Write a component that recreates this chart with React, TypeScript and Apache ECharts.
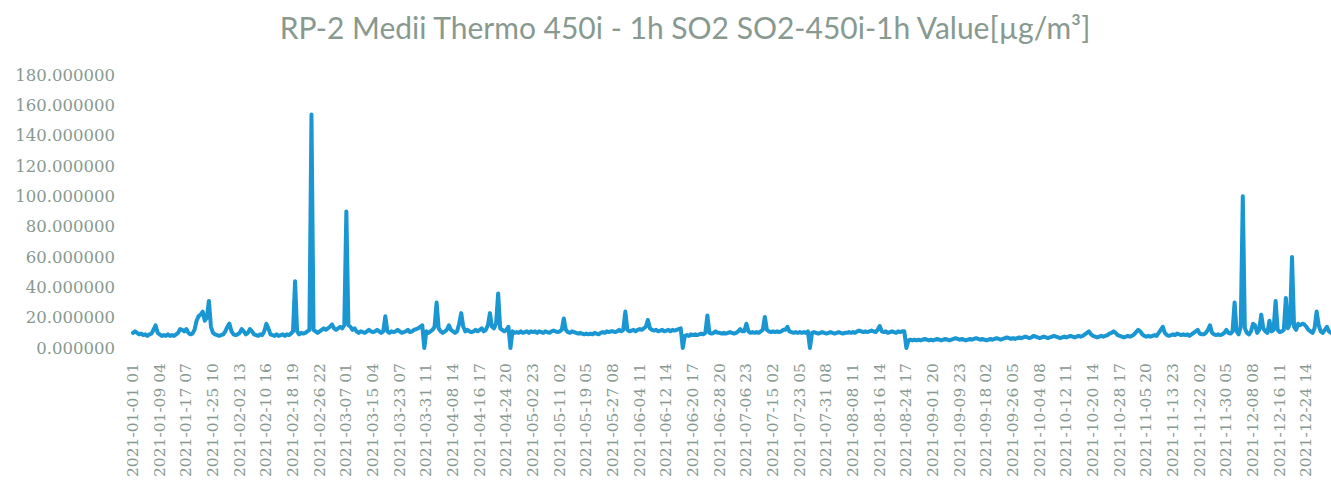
import React, { useEffect, useRef } from "react";
import * as echarts from "echarts";

const titleText = "RP-2 Medii Thermo 450i - 1h SO2 SO2-450i-1h Value[µg/m³]";

// Tick labels shown on the category axis (every 195 hours)
const xTickLabels = [
  "2021-01-01 01", "2021-01-09 04", "2021-01-17 07", "2021-01-25 10",
  "2021-02-02 13", "2021-02-10 16", "2021-02-18 19", "2021-02-26 22",
  "2021-03-07 01", "2021-03-15 04", "2021-03-23 07", "2021-03-31 11",
  "2021-04-08 14", "2021-04-16 17", "2021-04-24 20", "2021-05-02 23",
  "2021-05-11 02", "2021-05-19 05", "2021-05-27 08", "2021-06-04 11",
  "2021-06-12 14", "2021-06-20 17", "2021-06-28 20", "2021-07-06 23",
  "2021-07-15 02", "2021-07-23 05", "2021-07-31 08", "2021-08-08 11",
  "2021-08-16 14", "2021-08-24 17", "2021-09-01 20", "2021-09-09 23",
  "2021-09-18 02", "2021-09-26 05", "2021-10-04 08", "2021-10-12 11",
  "2021-10-20 14", "2021-10-28 17", "2021-11-05 20", "2021-11-13 23",
  "2021-11-22 02", "2021-11-30 05", "2021-12-08 08", "2021-12-16 11",
  "2021-12-24 14",
];

// Sampling: one value every 15 hours, 13 samples per labelled step
const sampleHours = 15;
const samplesPerTick = 13;

// SO2 values [µg/m³], one row per labelled step
const so2Values = [
  10, 11, 10, 9, 9.5, 8.5, 9, 8, 9, 9.5, 12, 15, 10,
  9, 8, 8.5, 8, 9, 8, 8.5, 8, 9, 10, 12.5, 12, 11,
  12.5, 10, 9, 9.5, 12, 18, 21, 22, 24, 18, 20, 31, 14,
  10, 9, 8.5, 8, 8.5, 9, 11, 14, 16, 11, 9, 8.5, 9,
  10, 12.5, 11, 9, 10, 12.5, 11, 9, 8.5, 8, 9, 8.5, 11,
  16, 13, 9, 8.5, 8, 9, 8, 8.5, 9, 8, 9, 8.5, 9.5,
  11, 44, 11, 9, 10, 9.5, 10, 11, 12, 154, 12, 11, 10,
  11, 12, 13, 12, 13, 14, 15.5, 13, 12, 13, 14, 13, 15,
  90, 15, 14, 12, 13, 11, 10, 11, 10.5, 10, 11, 12, 11,
  10.5, 11, 12, 11, 10, 11, 21, 11, 10, 11, 10.5, 11, 12,
  11, 10, 10.5, 11, 12, 10.5, 11, 12, 12.5, 13, 14, 15, 0,
  11, 10, 11, 12, 14, 30, 13, 11, 10, 11, 12, 15, 12,
  11, 10, 11, 16, 23, 14, 11, 12, 11, 10.5, 11, 12, 11,
  12, 13, 11, 12, 15, 23, 14, 13, 16, 36, 13, 12, 11,
  12, 14, 0, 11, 10, 10.5, 10, 11, 10, 10.5, 11, 10, 11,
  10.5, 11, 10, 11, 10.5, 10, 11, 10.5, 10, 11, 11.5, 11, 10.5,
  11, 12, 19.5, 12, 10.5, 10, 11, 10.5, 10, 9.5, 10, 9.5, 9,
  9.5, 9, 9.5, 9, 10, 9.5, 9, 10, 10.5, 10, 11, 10.5, 11,
  11, 10.5, 11, 12, 11, 12, 24, 12, 11, 11.5, 12, 11, 12,
  12.5, 12, 13, 14, 18.5, 13, 12, 11.5, 12, 11, 11.5, 12, 11,
  11.5, 12, 11, 12, 11.5, 12, 12.5, 13, 0, 8, 8.5, 8, 9,
  8.5, 9, 8.5, 9, 9.5, 9, 10, 21.5, 10, 9.5, 10, 11, 10,
  10, 9.5, 10, 9.5, 10, 10.5, 10, 9.5, 10, 11, 12.5, 11, 11,
  16, 11, 10, 10.5, 10, 10.5, 10, 11, 12, 20.5, 12, 11, 10.5,
  11, 10.5, 11, 10.5, 11, 12, 12, 14, 11, 10.5, 10, 10.5, 10,
  10.5, 10, 10.5, 10, 11, 0, 10, 10.5, 10, 9.5, 10, 10.5, 10,
  9.5, 10, 10.5, 10, 9.5, 10, 10.5, 10, 9.5, 10, 10, 10.5, 10,
  10.5, 10, 11, 11.5, 11, 10.5, 11, 10.5, 11, 11.5, 11, 10.5, 12,
  14.5, 11, 10.5, 11, 10, 10.5, 11, 10.5, 10, 11, 10.5, 11, 11,
  0, 5, 5.5, 5, 5.5, 5, 5.5, 5, 5.5, 6, 5.5, 5, 5.5,
  5, 5.5, 6, 5.5, 5, 5.5, 6, 5.5, 5, 5.5, 6, 6.5, 6,
  5.5, 6, 5.5, 5, 5.5, 6, 5.5, 6, 6.5, 6, 5.5, 6, 5.5,
  5, 5.5, 6, 5.5, 6, 6.5, 6, 5.5, 6, 6.5, 7, 6.5, 6,
  6.5, 6, 6.5, 7, 6.5, 7, 7.5, 7, 6.5, 7, 8, 7.5, 7,
  6.5, 7, 7.5, 7, 6.5, 7, 7.5, 8, 7.5, 7, 6.5, 7, 7.5,
  7, 7.5, 8, 7.5, 7, 7.5, 8, 7.5, 8, 9, 10, 11, 9,
  8, 7.5, 7, 7.5, 8, 7.5, 8, 8.5, 9.5, 10, 11, 10, 8.5,
  8, 7.5, 7, 7.5, 8, 7.5, 8, 9, 10.5, 12, 11, 9, 8,
  7.5, 8, 7.5, 8, 8.5, 8, 10, 12, 14, 10, 8.5, 8, 8.5,
  9, 8.5, 9.5, 9, 8.5, 9, 8.5, 9, 8, 9, 10, 11, 12,
  9.5, 9, 9, 10, 12, 15, 10, 9, 8.5, 9, 8.5, 9, 10,
  12, 10, 9.5, 11, 30, 11, 9, 14, 100, 13, 10, 9, 11,
  16, 15, 10, 12, 22, 13, 11, 10, 18, 11, 12, 31, 12,
  10.5, 11, 12, 33, 13, 16, 60, 14, 12, 16, 15, 16, 15.5,
  14, 12, 11, 10, 13, 24, 15, 11, 10, 12, 14, 11, 10,
];

const yMin = 0;
const yMax = 180;
const yStep = 20;

function pad2(n: number) {
  return n < 10 ? "0" + n : String(n);
}

function buildCategories(): string[] {
  const out: string[] = [];
  for (let r = 0; r < xTickLabels.length; r++) {
    const lab = xTickLabels[r];
    const [d, h] = lab.split(" ");
    const [yy, mm, dd] = d.split("-").map(Number);
    const base = Date.UTC(yy, mm - 1, dd, Number(h));
    for (let k = 0; k < samplesPerTick; k++) {
      if (out.length >= so2Values.length) break;
      if (k === 0) {
        out.push(lab);
      } else {
        const t = new Date(base + k * sampleHours * 3600 * 1000);
        out.push(
          `${t.getUTCFullYear()}-${pad2(t.getUTCMonth() + 1)}-${pad2(t.getUTCDate())} ${pad2(t.getUTCHours())}`
        );
      }
    }
  }
  return out;
}

export default function App() {
  const ref = useRef<HTMLDivElement>(null);
  useEffect(() => {
    if (!ref.current) return;
    const chart = echarts.init(ref.current, null, { renderer: "svg" });
    const categories = buildCategories();
    const textColor = "#889990";
    chart.setOption({
      animation: false,
      backgroundColor: "#ffffff",
      title: {
        text: titleText,
        left: 680,
        top: 7,
        textAlign: "center",
        textStyle: {
          fontFamily: "Lato",
          fontSize: 30,
          fontWeight: "normal",
          color: textColor,
        },
      },
      grid: { left: 133, right: -13, top: 75, bottom: 144, containLabel: false },
      xAxis: {
        type: "category",
        data: categories,
        boundaryGap: false,
        axisLine: { show: false },
        axisTick: { show: false },
        splitLine: { show: false },
        axisLabel: {
          interval: samplesPerTick - 1,
          rotate: 90,
          margin: 15,
          fontFamily: "DejaVu Serif",
          fontSize: 15.5,
          color: textColor,
        },
      },
      yAxis: {
        type: "value",
        min: yMin,
        max: yMax,
        interval: yStep,
        axisLine: { show: false },
        axisTick: { show: false },
        splitLine: { show: false },
        axisLabel: {
          margin: 18,
          fontFamily: "DejaVu Serif",
          fontSize: 16.5,
          color: textColor,
          formatter: (v: number) => v.toFixed(6),
        },
      },
      series: [
        {
          type: "line",
          data: so2Values,
          showSymbol: false,
          clip: false,
          lineStyle: { color: "#1a96d3", width: 4, join: "round", cap: "round" },
          itemStyle: { color: "#1a96d3" },
        },
      ],
    });
    return () => chart.dispose();
  }, []);
  return (
    <div
      ref={ref}
      style={{ position: "fixed", left: 0, top: 0, width: 1331, height: 492, background: "#fff" }}
    />
  );
}
